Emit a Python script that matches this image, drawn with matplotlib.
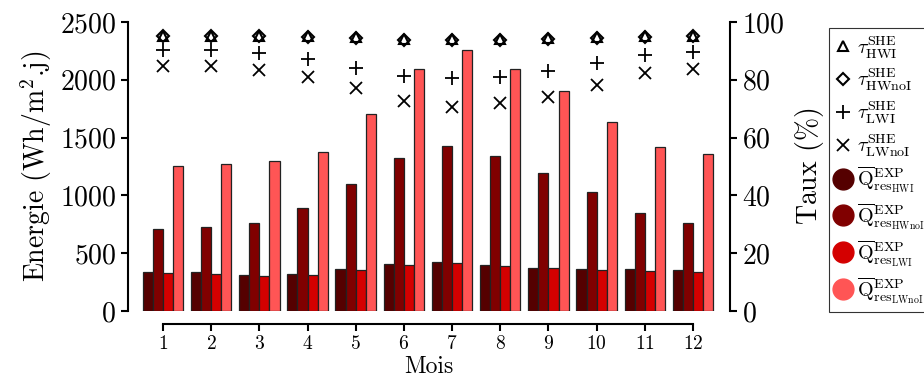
import numpy as np
import matplotlib
matplotlib.use("Agg")
import matplotlib.pyplot as plt
from matplotlib.lines import Line2D

plt.rcParams["font.family"] = "serif"
plt.rcParams["font.serif"] = ["cmr10", "DejaVu Serif"]
plt.rcParams["mathtext.fontset"] = "cm"
plt.rcParams["axes.formatter.use_mathtext"] = True

# Donnees
mois = np.arange(1, 13)
q_hwi = [340, 335, 311, 320, 360, 404, 421, 398, 372, 363, 360, 355]
q_hwnoi = [712, 727, 764, 894, 1096, 1326, 1427, 1341, 1191, 1032, 850, 764]
q_lwi = [326, 317, 300, 309, 355, 398, 415, 392, 369, 355, 346, 340]
q_lwnoi = [1254, 1269, 1295, 1378, 1707, 2093, 2261, 2091, 1903, 1638, 1419, 1355]

tau_hwi = [95.3, 95.3, 95.3, 95.1, 94.7, 94.1, 94.0, 94.1, 94.3, 94.9, 95.2, 95.3]
tau_hwnoi = [95.0, 95.0, 95.0, 94.8, 94.4, 93.8, 93.7, 93.8, 94.0, 94.6, 94.9, 95.0]
tau_lwi = [90.3, 90.3, 89.2, 87.1, 84.2, 81.4, 80.5, 81.1, 83.2, 85.7, 88.6, 89.7]
tau_lwnoi = [84.8, 84.8, 83.4, 81.1, 77.0, 72.7, 70.7, 71.9, 74.0, 78.2, 82.2, 83.6]

couleurs = ["#550000", "#800000", "#d40000", "#ff5555"]
labels_q = [r"$\overline{\rm Q}^{\rm EXP}_{\rm res_{HWI}}$",
            r"$\overline{\rm Q}^{\rm EXP}_{\rm res_{HWnoI}}$",
            r"$\overline{\rm Q}^{\rm EXP}_{\rm res_{LWI}}$",
            r"$\overline{\rm Q}^{\rm EXP}_{\rm res_{LWnoI}}$"]
labels_tau = [r"$\tau^{\rm SHE}_{\rm HWI}$",
              r"$\tau^{\rm SHE}_{\rm HWnoI}$",
              r"$\tau^{\rm SHE}_{\rm LWI}$",
              r"$\tau^{\rm SHE}_{\rm LWnoI}$"]

fig = plt.figure(figsize=(9.24, 3.78), dpi=100)
ax = fig.add_axes([128 / 924, 67 / 378, 602 / 924, 289 / 378])

# Barres
w = 0.21
series = [q_hwi, q_hwnoi, q_lwi, q_lwnoi]
for i, (vals, c) in enumerate(zip(series, couleurs)):
    ax.bar(mois + (i - 1.5) * w, vals, width=w, color=c,
           edgecolor="#222222", linewidth=0.9)

ax.set_xlim(0.274, 12.768)
ax.set_ylim(0, 2500)
ax.set_xticks(mois)
ax.set_yticks([0, 500, 1000, 1500, 2000, 2500])
ax.set_ylabel(r"Energie (Wh/m$^2$.j)", fontsize=20, labelpad=4)
ax.set_xlabel("Mois", fontsize=17, labelpad=2)
ax.tick_params(axis="y", labelsize=20, width=1.5, length=5)
ax.tick_params(axis="x", labelsize=14, width=1.5, length=5)

ax.spines["top"].set_visible(False)
ax.spines["right"].set_visible(False)
ax.spines["bottom"].set_position(("outward", 9))
ax.spines["bottom"].set_bounds(1, 12)
ax.spines["left"].set_bounds(0, 2500)
for s in ["bottom", "left"]:
    ax.spines[s].set_linewidth(1.5)

# Taux
ax2 = ax.twinx()
ax2.set_ylim(0, 100)
ax2.set_yticks([0, 20, 40, 60, 80, 100])
ax2.plot(mois, tau_hwi, "^", ls="none", mfc="none", mec="black", ms=7, mew=1.5)
ax2.plot(mois, tau_hwnoi, "D", ls="none", mfc="none", mec="black", ms=6, mew=1.5)
ax2.plot(mois, tau_lwi, "+", ls="none", color="black", ms=10, mew=1.3)
ax2.plot(mois, tau_lwnoi, "x", ls="none", color="black", ms=9, mew=1.3)
ax2.set_ylabel(r"Taux ($\%$)", fontsize=20, labelpad=6)
ax2.tick_params(axis="y", labelsize=20, width=1.5, length=5)
for s in ["top", "left", "bottom"]:
    ax2.spines[s].set_visible(False)
ax2.spines["right"].set_bounds(0, 100)
ax2.spines["right"].set_linewidth(1.5)

# Legende
handles = [
    Line2D([], [], marker="^", ls="none", mfc="none", mec="black", ms=7, mew=1.5),
    Line2D([], [], marker="D", ls="none", mfc="none", mec="black", ms=6, mew=1.5),
    Line2D([], [], marker="+", ls="none", color="black", ms=10, mew=1.3),
    Line2D([], [], marker="x", ls="none", color="black", ms=9, mew=1.3),
]
for c in couleurs:
    handles.append(Line2D([], [], marker="o", ls="none", color=c, ms=15))

leg = fig.legend(handles, labels_tau + labels_q, loc="upper left",
                 bbox_to_anchor=(829 / 924, 1 - 28 / 378), fontsize=14.5,
                 frameon=True, fancybox=False, edgecolor="black",
                 handlelength=0.8, handletextpad=0.3, labelspacing=0.3,
                 borderpad=0.3, borderaxespad=0)
leg.get_frame().set_linewidth(0.8)

fig.savefig("out.png", dpi=100)
